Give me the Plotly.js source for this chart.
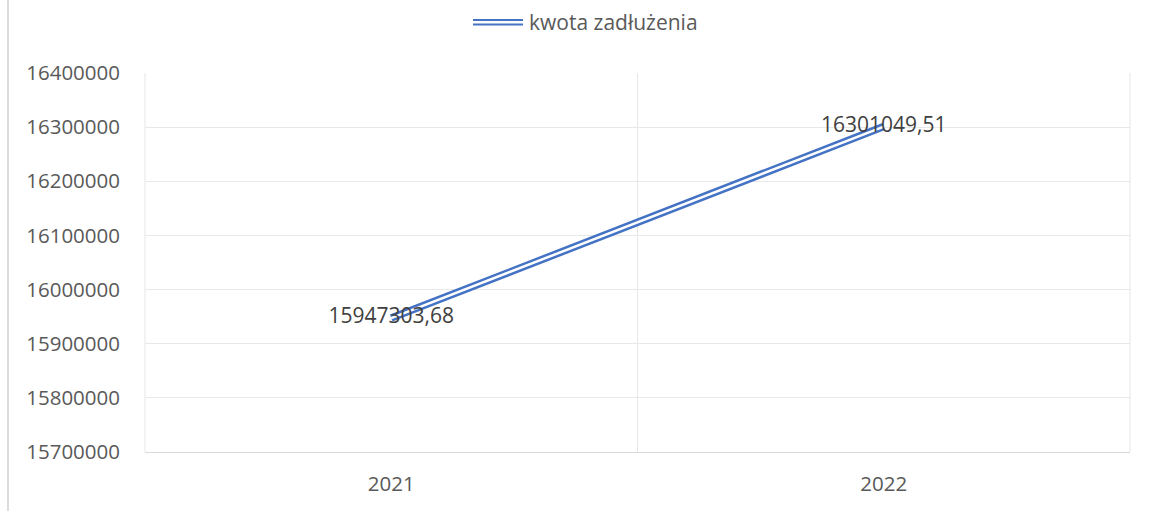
<!DOCTYPE html>
<html><head><meta charset="utf-8">
<script src="https://cdn.plot.ly/plotly-3.0.1.min.js"></script>
<style>html,body{margin:0;padding:0;background:#fff}#c{width:1152px;height:511px}</style>
</head><body><div id="c"></div>
<script>
const categories = ['2021', '2022'];
const values = [15947303.68, 16301049.51];
const valueLabels = ['15947303,68', '16301049,51'];
const seriesName = 'kwota zadłużenia';
const yTicks = [15700000, 15800000, 15900000, 16000000, 16100000, 16200000, 16300000, 16400000];

const blue = '#4472C4';
const fontFam = '"Open Sans", "Noto Sans", sans-serif';

const traces = [
  {x: categories, y: values, type: 'scatter', mode: 'lines', line: {color: blue, width: 7.5}, hoverinfo: 'skip', showlegend: false},
  {x: categories, y: values, type: 'scatter', mode: 'lines', line: {color: '#ffffff', width: 2.5}, hoverinfo: 'skip', showlegend: false},
  {x: categories, y: values, type: 'scatter', mode: 'text', text: valueLabels, textposition: 'middle center',
   textfont: {family: fontFam, size: 21, color: '#404040'}, hoverinfo: 'skip', showlegend: false}
];

const L = 145, R = 1130, T = 73, B = 452;
const px = v => (v - L) / (R - L);
const py = v => (B - v) / (B - T);

const layout = {
  width: 1152, height: 511,
  margin: {l: L, r: 1152 - R, t: T, b: 511 - B, pad: 0},
  paper_bgcolor: '#ffffff', plot_bgcolor: '#ffffff',
  showlegend: false,
  font: {family: fontFam, color: '#595959', size: 20},
  xaxis: {
    type: 'category', range: [-0.5, 1.5], tickson: 'boundaries', showgrid: true, gridcolor: '#e6e6e6', gridwidth: 1,
    showline: true, linecolor: '#d9d9d9', linewidth: 1, ticks: '', zeroline: false, mirror: false,
    tickfont: {family: fontFam, size: 20.5, color: '#595959'}, ticklabelstandoff: 13
  },
  yaxis: {
    range: [15700000, 16400000], tickvals: yTicks, ticktext: yTicks.map(String), showgrid: true, gridcolor: '#e8e8e8', gridwidth: 1,
    zeroline: false, showline: false, ticks: '', tickfont: {family: fontFam, size: 20.5, color: '#595959'}, ticklabelstandoff: 24
  },
  shapes: [
    {type: 'line', xref: 'paper', yref: 'paper', x0: px(8), x1: px(8), y0: py(511), y1: py(0), line: {color: '#d0d0d0', width: 1.5}},
    {type: 'line', xref: 'paper', yref: 'paper', x0: 0, x1: 0, y0: 0, y1: 1, line: {color: '#e6e6e6', width: 1}},
    {type: 'line', xref: 'paper', yref: 'paper', x0: 1, x1: 1, y0: 0, y1: 1, line: {color: '#e6e6e6', width: 1}},
    {type: 'line', xref: 'paper', yref: 'paper', x0: px(473), x1: px(523), y0: py(20), y1: py(20), line: {color: blue, width: 2.2}},
    {type: 'line', xref: 'paper', yref: 'paper', x0: px(473), x1: px(523), y0: py(24.5), y1: py(24.5), line: {color: blue, width: 2.2}}
  ],
  annotations: [
    {xref: 'paper', yref: 'paper', x: px(527), y: py(22), xanchor: 'left', yanchor: 'middle', showarrow: false,
     text: seriesName, font: {family: fontFam, size: 21, color: '#595959'}}
  ]
};

Plotly.newPlot('c', traces, layout, {staticPlot: true, displayModeBar: false});
</script></body></html>
